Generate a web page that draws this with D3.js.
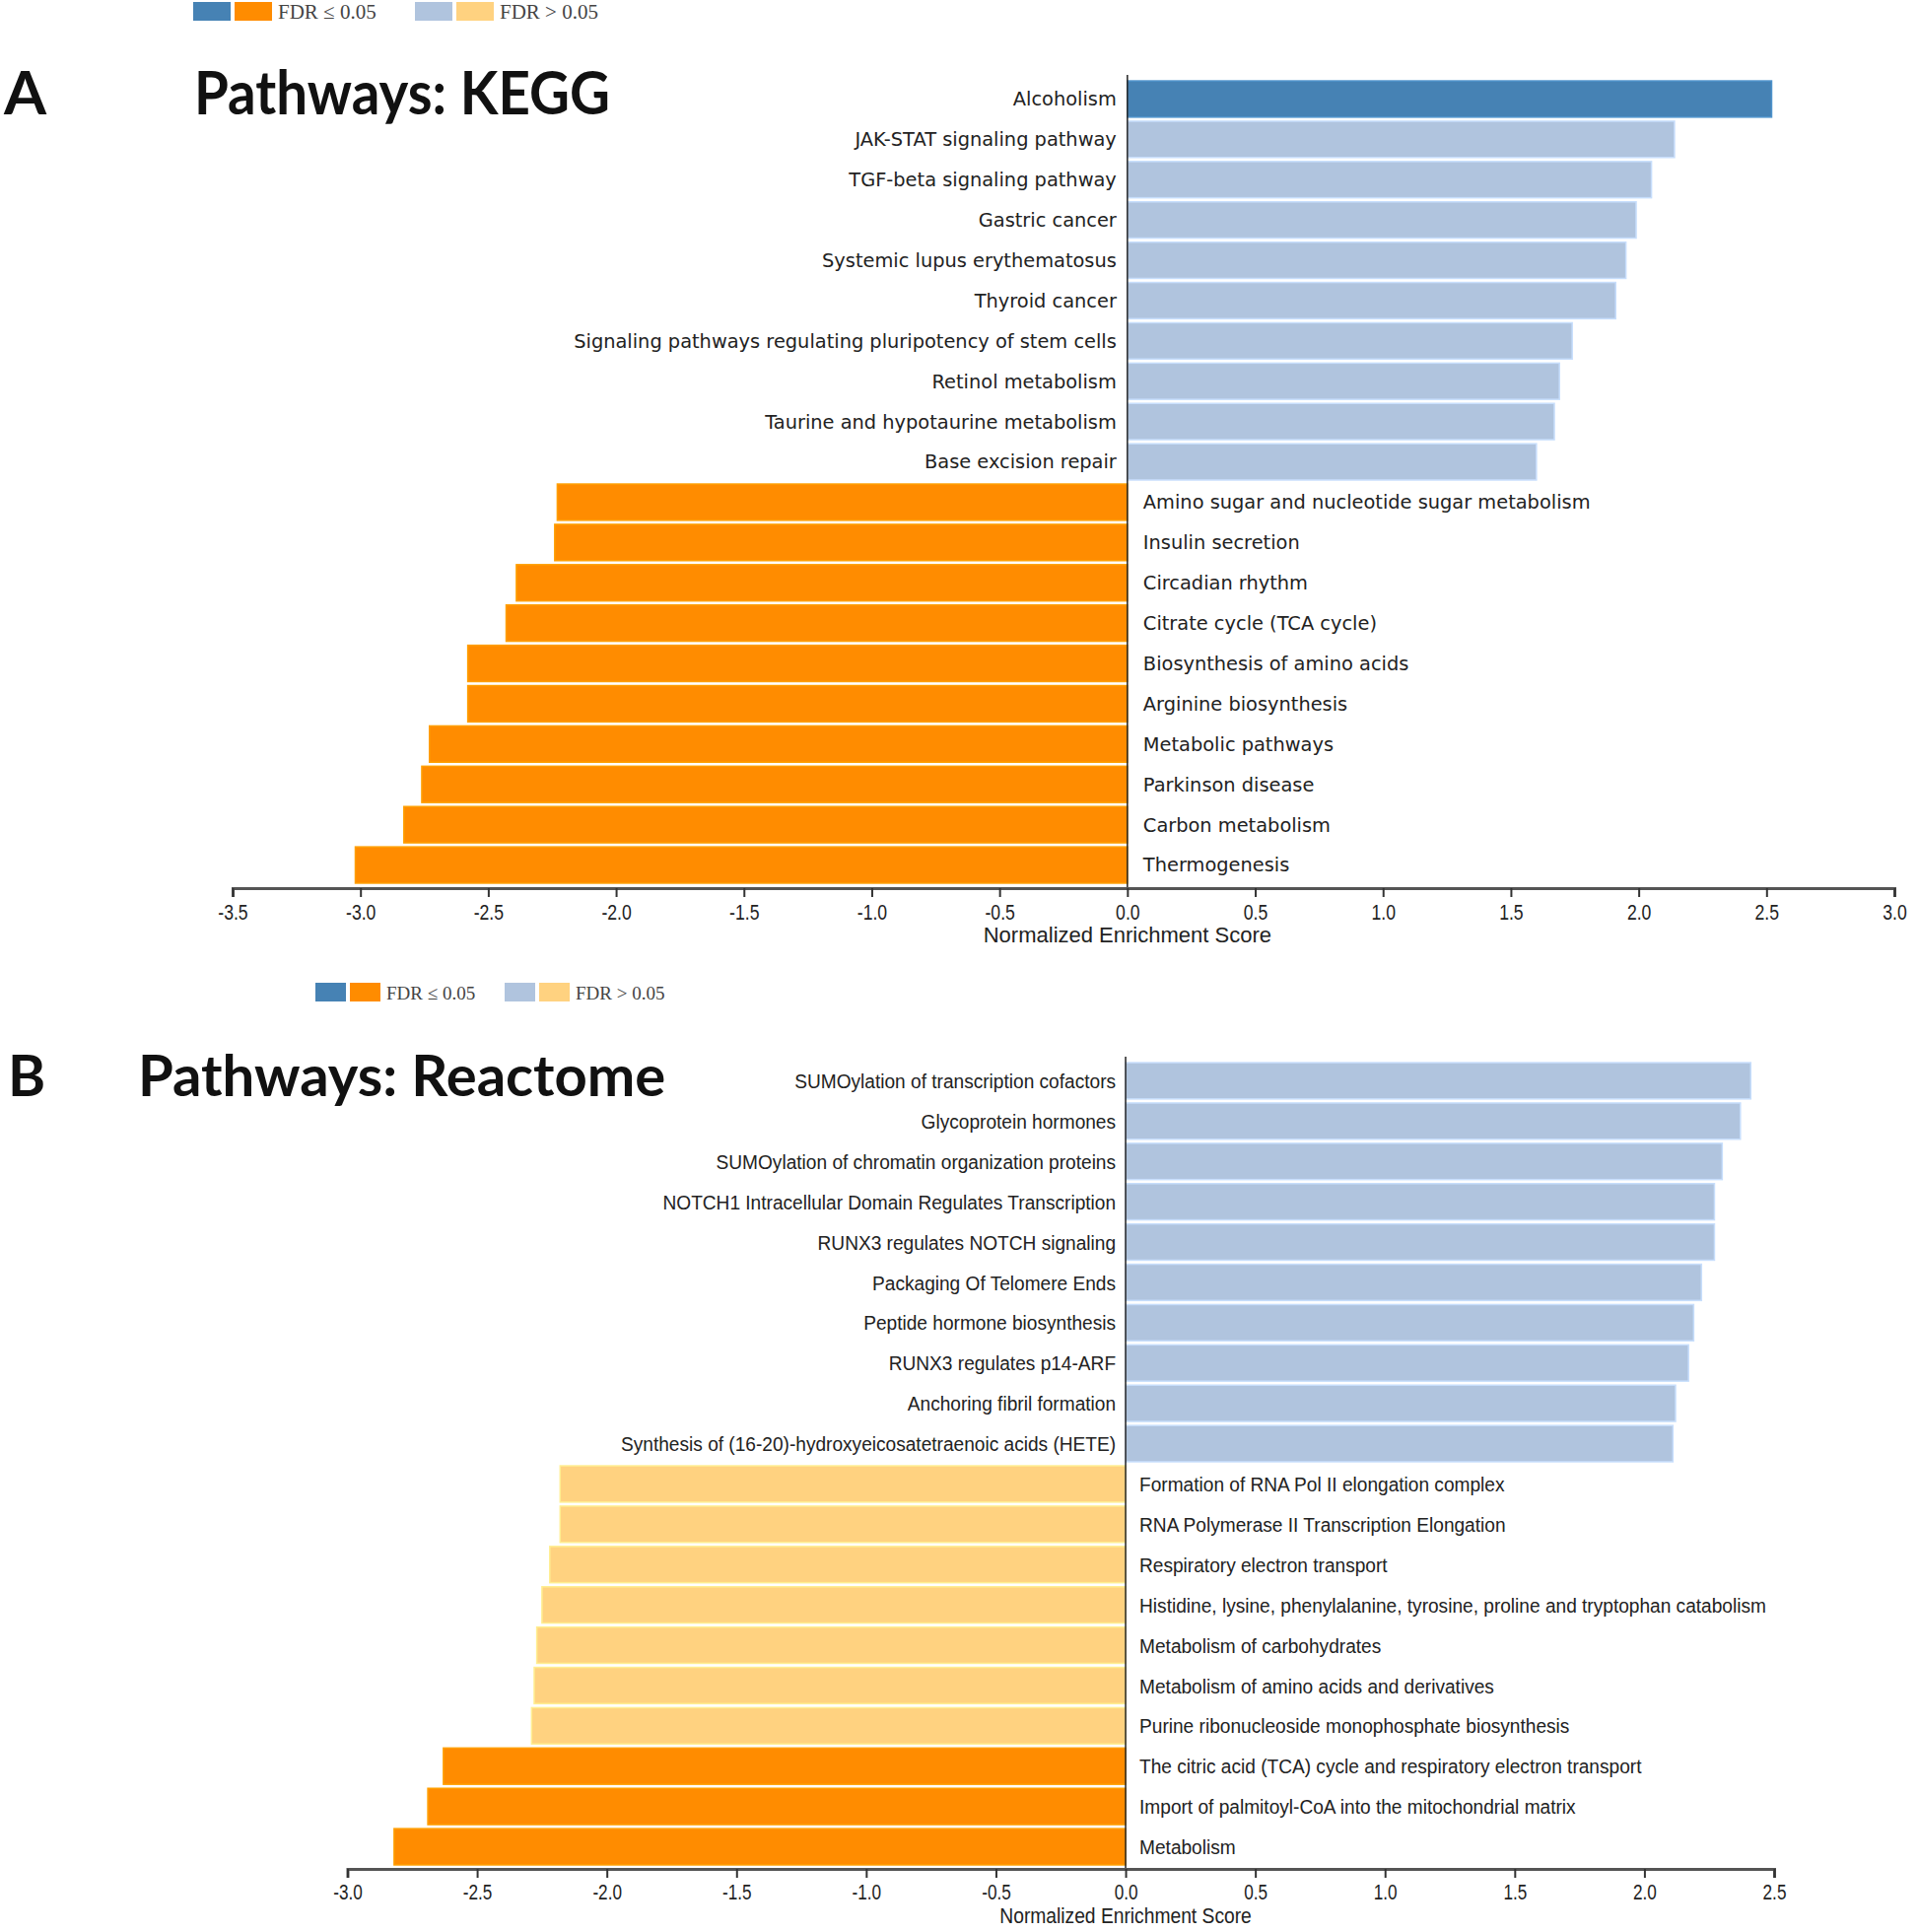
<!DOCTYPE html>
<html>
<head>
<meta charset="utf-8">
<script src="https://cdn.jsdelivr.net/npm/d3@7"></script>
<style>
  body { margin: 0; background: #fff; }
  svg text { fill: #111; }
</style>
</head>
<body>
<svg id="chart" width="1946" height="1960"></svg>
<script>
// KEGG pathways (panel A)
const keggNames = [
  "Alcoholism", "JAK-STAT signaling pathway", "TGF-beta signaling pathway",
  "Gastric cancer", "Systemic lupus erythematosus", "Thyroid cancer",
  "Signaling pathways regulating pluripotency of stem cells", "Retinol metabolism",
  "Taurine and hypotaurine metabolism", "Base excision repair",
  "Amino sugar and nucleotide sugar metabolism", "Insulin secretion", "Circadian rhythm",
  "Citrate cycle (TCA cycle)", "Biosynthesis of amino acids", "Arginine biosynthesis",
  "Metabolic pathways", "Parkinson disease", "Carbon metabolism", "Thermogenesis"
];
const keggNES = [2.52, 2.14, 2.05, 1.99, 1.95, 1.91, 1.74, 1.69, 1.67, 1.60,
  -2.23, -2.24, -2.39, -2.43, -2.58, -2.58, -2.73, -2.76, -2.83, -3.02];
const keggSig = [1, 0, 0, 0, 0, 0, 0, 0, 0, 0, 1, 1, 1, 1, 1, 1, 1, 1, 1, 1];
const keggTicks = [-3.5, -3.0, -2.5, -2.0, -1.5, -1.0, -0.5, 0.0, 0.5, 1.0, 1.5, 2.0, 2.5, 3.0];

// Reactome pathways (panel B)
const reactNames = [
  "SUMOylation of transcription cofactors", "Glycoprotein hormones",
  "SUMOylation of chromatin organization proteins",
  "NOTCH1 Intracellular Domain Regulates Transcription", "RUNX3 regulates NOTCH signaling",
  "Packaging Of Telomere Ends", "Peptide hormone biosynthesis", "RUNX3 regulates p14-ARF",
  "Anchoring fibril formation", "Synthesis of (16-20)-hydroxyeicosatetraenoic acids (HETE)",
  "Formation of RNA Pol II elongation complex", "RNA Polymerase II Transcription Elongation",
  "Respiratory electron transport",
  "Histidine, lysine, phenylalanine, tyrosine, proline and tryptophan catabolism",
  "Metabolism of carbohydrates", "Metabolism of amino acids and derivatives",
  "Purine ribonucleoside monophosphate biosynthesis",
  "The citric acid (TCA) cycle and respiratory electron transport",
  "Import of palmitoyl-CoA into the mitochondrial matrix", "Metabolism"
];
const reactNES = [2.41, 2.37, 2.30, 2.27, 2.27, 2.22, 2.19, 2.17, 2.12, 2.11,
  -2.18, -2.18, -2.22, -2.25, -2.27, -2.28, -2.29, -2.63, -2.69, -2.82];
const reactSig = [0, 0, 0, 0, 0, 0, 0, 0, 0, 0, 0, 0, 0, 0, 0, 0, 0, 1, 1, 1];
const reactTicks = [-3.0, -2.5, -2.0, -1.5, -1.0, -0.5, 0.0, 0.5, 1.0, 1.5, 2.0, 2.5];

const legendLabels = ["FDR \u2264 0.05", "FDR > 0.05"];

// fill colour: up / down, significant / not
function barColor(v, sig) {
  if (v >= 0) return sig ? "#4682b4" : "#b0c4de";
  return sig ? "#ff8c00" : "#ffd280";
}

const svg = d3.select("#chart");

function drawPanel(o) {
  const g = svg.append("g");
  const rows = o.names.map((n, i) => ({ name: n, v: o.nes[i], sig: o.sig[i] }));

  let x = d3.scaleLinear().domain(d3.extent(o.ticks)).range(o.xRange);
  let y = d3.scaleBand().domain(o.names).range(o.yRange).paddingInner(0.1).paddingOuter(0.05);
  const x0 = x(0);

  // legend
  const lg = g.append("g").attr("transform", "translate(" + o.legend[0] + "," + o.legend[1] + ")");
  const sw = o.legendSize;
  const sets = [["#4682b4", "#ff8c00"], ["#b0c4de", "#ffd280"]];
  sets.forEach((cols, k) => {
    const gx = k * o.legendGap;
    cols.forEach((c, j) => {
      lg.append("rect").attr("x", gx + j * (sw + 4)).attr("y", 0)
        .attr("width", sw).attr("height", o.legendH).attr("fill", c);
    });
    lg.append("text").attr("x", gx + 2 * (sw + 4) + 2).attr("y", o.legendH - 2)
      .style("font-family", "'Liberation Serif', serif").style("font-size", o.legendFont + "px")
      .style("fill", "#444")
      .text(legendLabels[k]);
  });

  // panel letter and title
  g.append("text").attr("x", o.letterX).attr("y", o.titleY)
    .style("font-family", "Lato, sans-serif").style("font-weight", "bold")
    .style("font-size", o.titleFont + "px").text(o.letter);
  g.append("text").attr("transform", "translate(" + o.titleX + "," + o.titleY + ") scale(" + o.titleSx + ",1)")
    .style("font-family", "Lato, sans-serif").style("font-weight", "bold")
    .style("font-size", o.titleFont + "px").text(o.title);

  // bars
  g.selectAll("rect.bar").data(rows).enter().append("rect")
    .attr("class", "bar")
    .attr("x", d => d.v >= 0 ? x0 : x(d.v))
    .attr("y", d => y(d.name))
    .attr("width", d => Math.abs(x(d.v) - x0))
    .attr("height", y.bandwidth())
    .attr("fill", d => barColor(d.v, d.sig))
    .attr("stroke", d => d3.color(barColor(d.v, d.sig)).brighter(0.35))
    .attr("stroke-width", 1.5);

  // zero line
  g.append("line").attr("x1", x0).attr("x2", x0)
    .attr("y1", o.yRange[0] - 4).attr("y2", o.axisY)
    .attr("stroke", "#222").attr("stroke-width", 1.5);

  // bar labels on the opposite side of zero
  g.selectAll("text.lab").data(rows).enter().append("text")
    .attr("class", "lab")
    .attr("transform", d => {
      const tx = d.v >= 0 ? x0 - o.labGapL : x0 + o.labGapR;
      return "translate(" + tx + "," + (y(d.name) + y.bandwidth() / 2) + ") scale(" + o.labSx + ",1)";
    })
    .attr("dy", "0.36em")
    .attr("text-anchor", d => d.v >= 0 ? "end" : "start")
    .style("font-family", o.labFamily).style("font-size", o.labFont + "px")
    .style("fill", "#222")
    .text(d => d.name);

  // x axis
  const ax = g.append("g").attr("transform", "translate(0," + o.axisY + ")")
    .call(d3.axisBottom(x).tickValues(o.ticks).tickFormat(d3.format(".1f")).tickSize(9).tickSizeOuter(9));
  ax.select(".domain").attr("stroke", "#555").attr("stroke-width", 3);
  ax.selectAll(".tick line").attr("stroke", "#333").attr("stroke-width", 2);
  ax.selectAll(".tick text")
    .attr("y", 0).attr("dy", 0)
    .attr("transform", "translate(0," + o.tickLabY + ") scale(" + o.tickSx + ",1)")
    .style("font-family", "'Liberation Sans', Arial, sans-serif")
    .style("font-size", o.tickFont + "px").style("fill", "#222")
    .text(d => d3.format(".1f")(d).replace("\u2212", "-"));

  g.append("text")
    .attr("transform", "translate(" + x0 + "," + (o.axisY + o.axisTitleDy) + ") scale(" + o.axisTitleSx + ",1)")
    .attr("text-anchor", "middle")
    .style("font-family", "'Liberation Sans', Arial, sans-serif")
    .style("font-size", o.axisTitleFont + "px").style("fill", "#222")
    .text("Normalized Enrichment Score");
}

drawPanel({
  names: keggNames, nes: keggNES, sig: keggSig, ticks: keggTicks,
  xRange: [236, 1922], yRange: [80, 898], axisY: 901,
  legend: [196, 2], legendSize: 38, legendH: 19, legendGap: 225, legendFont: 21,
  letter: "A", letterX: 4, title: "Pathways: KEGG", titleX: 197, titleY: 116,
  titleFont: 62, titleSx: 0.91,
  labFamily: "'DejaVu Sans', sans-serif", labFont: 19, labSx: 1.02, labGapL: 11, labGapR: 16,
  tickFont: 22, tickSx: 0.8, tickLabY: 32, axisTitleDy: 55, axisTitleFont: 22, axisTitleSx: 1.0
});

drawPanel({
  names: reactNames, nes: reactNES, sig: reactSig, ticks: reactTicks,
  xRange: [352.5, 1800], yRange: [1076, 1894], axisY: 1896,
  legend: [320, 997], legendSize: 31, legendH: 19, legendGap: 192, legendFont: 19,
  letter: "B", letterX: 8, title: "Pathways: Reactome", titleX: 140, titleY: 1112,
  titleFont: 58, titleSx: 1.0,
  labFamily: "'Liberation Sans', Arial, sans-serif", labFont: 21, labSx: 0.91, labGapL: 10, labGapR: 14,
  tickFont: 22, tickSx: 0.78, tickLabY: 31, axisTitleDy: 55, axisTitleFont: 22, axisTitleSx: 0.875
});
</script>
</body>
</html>
